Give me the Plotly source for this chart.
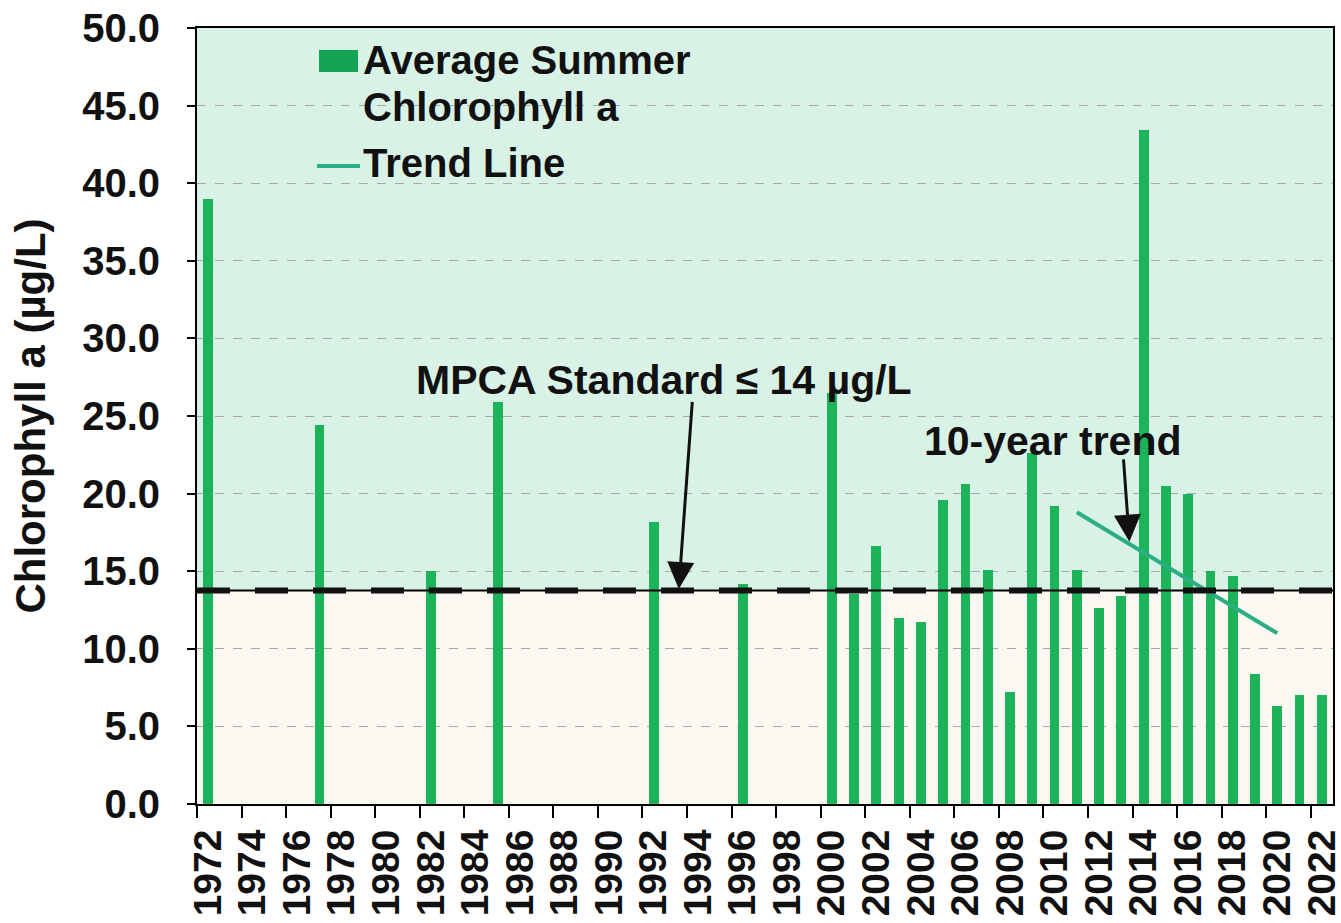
import plotly.graph_objects as go

# ---- data ----
sample_years = [1972, 1977, 1982, 1985, 1992, 1996, 2000, 2001, 2002, 2003, 2004,
                2005, 2006, 2007, 2008, 2009, 2010, 2011, 2012, 2013, 2014, 2015,
                2016, 2017, 2018, 2019, 2020, 2021, 2022]
chlorophyll_a = [39.0, 24.4, 15.0, 25.9, 18.2, 14.2, 26.5, 13.5, 16.6, 12.0, 11.7,
                 19.6, 20.6, 15.1, 7.2, 22.6, 19.2, 15.1, 12.6, 13.4, 43.4, 20.5,
                 20.0, 15.0, 14.7, 8.4, 6.3, 7.0, 7.0]
trend_years = [2011, 2020]
trend_values = [18.8, 11.0]
standard_value = 13.75
label_years = list(range(1972, 2023, 2))
y_ticks = [0, 5, 10, 15, 20, 25, 30, 35, 40, 45, 50]

FONT = "Liberation Sans, Arial, sans-serif"
TXT = "#111111"
BAR = "#1db35a"
TREND = "#2cae84"

W, H = 1341, 923
L, R, T, B = 197, 8, 28, 119
PW, PH = W - L - R, H - T - B


def px(xp):
    return (xp - L) / PW


def py(yp):
    return (H - B - yp) / PH


fig = go.Figure()
fig.add_trace(go.Bar(x=sample_years, y=chlorophyll_a, width=0.44,
                     marker=dict(color=BAR, line=dict(width=0)),
                     name="Average Summer Chlorophyll a", showlegend=False))
fig.add_trace(go.Scatter(x=trend_years, y=trend_values, mode="lines",
                         line=dict(color=TREND, width=4),
                         name="Trend Line", showlegend=False))

shapes = [
    # background bands
    dict(type="rect", xref="x domain", yref="y", x0=0, x1=1, y0=standard_value, y1=50,
         fillcolor="#d9f2e6", line=dict(width=0), layer="below"),
    dict(type="rect", xref="x domain", yref="y", x0=0, x1=1, y0=0, y1=standard_value,
         fillcolor="#faf8f1", line=dict(width=0), layer="below"),
    # MPCA standard line
    dict(type="line", xref="x domain", yref="y", x0=0, x1=1,
         y0=standard_value, y1=standard_value,
         line=dict(color="black", width=2), layer="above"),
    dict(type="line", xref="x domain", yref="y", x0=0, x1=1,
         y0=standard_value, y1=standard_value,
         line=dict(color="#111111", width=6, dash="33px,25px"), layer="above"),
    # legend symbols
    dict(type="rect", xref="paper", yref="paper", x0=px(319), x1=px(358),
         y0=py(72), y1=py(50), fillcolor="#14a454", line=dict(width=0)),
    dict(type="line", xref="paper", yref="paper", x0=px(317), x1=px(360),
         y0=py(166), y1=py(166), line=dict(color=TREND, width=4)),
]

annotations = [
    dict(text="<b>Average Summer</b>", xref="paper", yref="paper", x=px(361), y=py(60),
         xanchor="left", yanchor="middle", showarrow=False,
         font=dict(family=FONT, size=40, color=TXT)),
    dict(text="<b>Chlorophyll a</b>", xref="paper", yref="paper", x=px(361), y=py(107),
         xanchor="left", yanchor="middle", showarrow=False,
         font=dict(family=FONT, size=40, color=TXT)),
    dict(text="<b>Trend Line</b>", xref="paper", yref="paper", x=px(361), y=py(163),
         xanchor="left", yanchor="middle", showarrow=False,
         font=dict(family=FONT, size=40, color=TXT)),
    dict(text="<b>MPCA Standard ≤ 14 µg/L</b>", xref="paper", yref="paper",
         x=px(664), y=py(380), xanchor="center", yanchor="middle", showarrow=False,
         font=dict(family=FONT, size=41, color=TXT)),
    dict(text="<b>10-year trend</b>", xref="paper", yref="paper",
         x=px(1053), y=py(441), xanchor="center", yanchor="middle", showarrow=False,
         font=dict(family=FONT, size=41, color=TXT)),
    # arrows
    dict(text="", x=1993.13, y=13.85, ax=1993.74, ay=26.0, xref="x", yref="y",
         axref="x", ayref="y", showarrow=True, arrowhead=2, arrowsize=1.8,
         arrowwidth=3, arrowcolor="#111111"),
    dict(text="", x=2013.36, y=16.9, ax=2013.09, ay=22.3, xref="x", yref="y",
         axref="x", ayref="y", showarrow=True, arrowhead=2, arrowsize=1.8,
         arrowwidth=3, arrowcolor="#111111"),
]

fig.update_layout(
    width=W, height=H,
    margin=dict(l=L, r=R, t=T, b=B, pad=0, autoexpand=False),
    paper_bgcolor="white", plot_bgcolor="#d9f2e6",
    font=dict(family=FONT, color=TXT),
    showlegend=False, bargap=0,
    shapes=shapes, annotations=annotations,
)
fig.update_xaxes(
    range=[1971.5, 2022.5], automargin=False, ticklabeloverflow="allow",
    tickmode="array", tickvals=label_years, ticktext=[f"<b>{y}</b>" for y in label_years],
    tickangle=-90, ticks="", tickfont=dict(family=FONT, size=39, color=TXT),
    ticklabelstandoff=8,
    minor=dict(tickmode="array", tickvals=[y - 0.5 for y in label_years],
               ticks="outside", ticklen=12, tickwidth=1.5, tickcolor="black", showgrid=False),
    showline=True, linecolor="black", linewidth=2, mirror=True,
    showgrid=False, zeroline=False,
)
fig.update_yaxes(
    range=[0, 50], automargin=False, ticklabeloverflow="allow",
    tickmode="array", tickvals=y_ticks,
    ticktext=[f"<b>{v:.1f}</b>" for v in y_ticks],
    ticks="outside", ticklen=8, tickwidth=1.5, tickcolor="black",
    tickfont=dict(family=FONT, size=40, color=TXT), ticklabelstandoff=19,
    showline=True, linecolor="black", linewidth=2, mirror=True,
    showgrid=True, gridcolor="#a8a8a8", gridwidth=1, griddash="dash",
    zeroline=False,
    title=dict(text="<b>Chlorophyll a (µg/L)</b>", standoff=23,
               font=dict(family=FONT, size=42, color=TXT)),
)

fig.write_html("out.html", config={"displayModeBar": False},
               post_script="document.body.style.margin='0';document.body.style.overflow='hidden';")
